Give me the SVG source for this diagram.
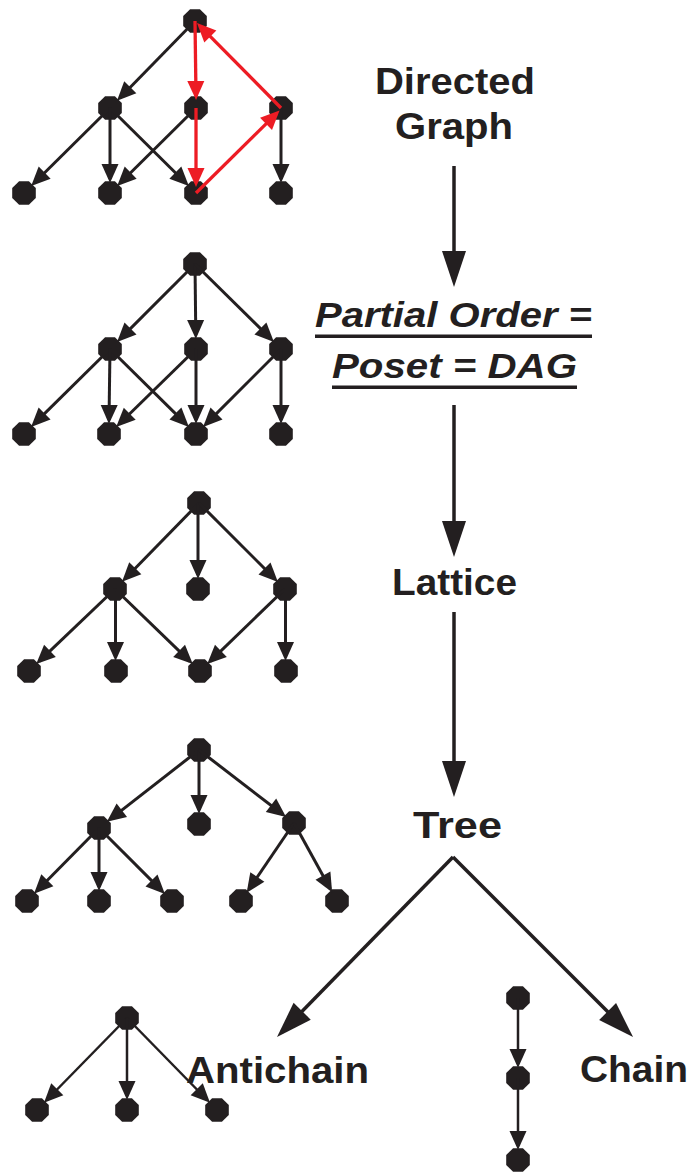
<svg xmlns="http://www.w3.org/2000/svg" xmlns:xlink="http://www.w3.org/1999/xlink" width="691" height="1173" viewBox="0 0 691 1173">
  <style>
    .n { fill: #231f20; }
    .e { stroke: #231f20; stroke-width: 3; fill: none; marker-end: url(#ah); }
    .thin { stroke-width: 2.5; }
    .r { stroke: #ed1c24; stroke-width: 3.3; marker-end: url(#ahr); }
    .big { stroke: #231f20; stroke-width: 3.5; fill: none; marker-end: url(#ahb); }
    .lbl { font-family: "Liberation Sans", Arial, Helvetica, sans-serif; font-weight: bold; font-size: 37px; fill: #231f20; }
    .it { font-style: italic; font-size: 35px; }
    .ul { fill: #231f20; }
  </style>
  <defs>
    <!-- vertex glyph: small filled octagon -->
    <path id="nd" d="M11.8,4.9 L4.9,11.8 L-4.9,11.8 L-11.8,4.9 L-11.8,-4.9 L-4.9,-11.8 L4.9,-11.8 L11.8,-4.9 Z"/>
    <marker id="ah" markerUnits="userSpaceOnUse" markerWidth="19" markerHeight="17" refX="15" refY="8.5" orient="auto" overflow="visible">
      <path d="M0,0 L19,8.5 L0,17 Z" fill="#231f20"/>
    </marker>
    <marker id="ahr" markerUnits="userSpaceOnUse" markerWidth="19" markerHeight="17" refX="15" refY="8.5" orient="auto" overflow="visible">
      <path d="M0,0 L19,8.5 L0,17 Z" fill="#ed1c24"/>
    </marker>
    <marker id="ahb" markerUnits="userSpaceOnUse" markerWidth="36" markerHeight="24" refX="30" refY="12" orient="auto" overflow="visible">
      <path d="M0,0 L36,12 L0,24 Z" fill="#231f20"/>
    </marker>
  </defs>
  <rect width="691" height="1173" fill="#ffffff"/>

  <!-- vertices -->
  <g id="nodes" class="n">
    <!-- directed graph -->
    <g id="dg-top"><use href="#nd" x="195" y="21"/></g>
    <g id="dg-ml"><use href="#nd" x="110" y="108"/></g>
    <g id="dg-mc"><use href="#nd" x="196" y="108"/></g>
    <g id="dg-mr"><use href="#nd" x="281" y="108"/></g>
    <g id="dg-b1"><use href="#nd" x="24" y="193"/></g>
    <g id="dg-b2"><use href="#nd" x="110" y="193"/></g>
    <g id="dg-b3"><use href="#nd" x="196" y="193"/></g>
    <g id="dg-b4"><use href="#nd" x="281" y="193"/></g>
    <!-- partial order -->
    <g id="po-top"><use href="#nd" x="195" y="264"/></g>
    <g id="po-ml"><use href="#nd" x="110" y="349"/></g>
    <g id="po-mc"><use href="#nd" x="196" y="349"/></g>
    <g id="po-mr"><use href="#nd" x="281" y="349"/></g>
    <g id="po-b1"><use href="#nd" x="24" y="434"/></g>
    <g id="po-b2"><use href="#nd" x="109" y="434"/></g>
    <g id="po-b3"><use href="#nd" x="196" y="434"/></g>
    <g id="po-b4"><use href="#nd" x="281" y="434"/></g>
    <!-- lattice -->
    <g id="la-top"><use href="#nd" x="199" y="503"/></g>
    <g id="la-ml"><use href="#nd" x="115" y="589"/></g>
    <g id="la-mc"><use href="#nd" x="198" y="589"/></g>
    <g id="la-mr"><use href="#nd" x="285" y="589"/></g>
    <g id="la-b1"><use href="#nd" x="29" y="671"/></g>
    <g id="la-b2"><use href="#nd" x="116" y="671"/></g>
    <g id="la-b3"><use href="#nd" x="200" y="671"/></g>
    <g id="la-b4"><use href="#nd" x="286" y="671"/></g>
    <!-- tree -->
    <g id="tr-top"><use href="#nd" x="199" y="750"/></g>
    <g id="tr-ml"><use href="#nd" x="99" y="828"/></g>
    <g id="tr-mc"><use href="#nd" x="199" y="824"/></g>
    <g id="tr-mr"><use href="#nd" x="294" y="823"/></g>
    <g id="tr-b1"><use href="#nd" x="27" y="901"/></g>
    <g id="tr-b2"><use href="#nd" x="99" y="901"/></g>
    <g id="tr-b3"><use href="#nd" x="172" y="901"/></g>
    <g id="tr-b4"><use href="#nd" x="241" y="901"/></g>
    <g id="tr-b5"><use href="#nd" x="337" y="901"/></g>
    <!-- star -->
    <g id="st-top"><use href="#nd" x="127" y="1018"/></g>
    <g id="st-b1"><use href="#nd" x="37" y="1110"/></g>
    <g id="st-b2"><use href="#nd" x="127" y="1110"/></g>
    <g id="st-b3"><use href="#nd" x="217" y="1110"/></g>
    <!-- chain -->
    <g id="ch-1"><use href="#nd" x="518" y="998"/></g>
    <g id="ch-2"><use href="#nd" x="518" y="1078"/></g>
    <g id="ch-3"><use href="#nd" x="518" y="1160"/></g>
  </g>

  <!-- labels -->
  <g id="lbl-directed" class="lbl">
    <text x="455" y="94" text-anchor="middle" textLength="160" lengthAdjust="spacingAndGlyphs">Directed</text>
    <text x="454" y="139" text-anchor="middle" textLength="118" lengthAdjust="spacingAndGlyphs">Graph</text>
  </g>
  <g id="lbl-poset" class="lbl">
    <text class="it" x="315" y="327" textLength="277" lengthAdjust="spacingAndGlyphs">Partial Order =</text>
    <rect class="ul" x="315" y="334.5" width="277" height="3.5"/>
    <text class="it" x="332" y="378" textLength="245" lengthAdjust="spacingAndGlyphs">Poset = DAG</text>
    <rect class="ul" x="332" y="385.5" width="245" height="3.5"/>
  </g>
  <g id="lbl-lattice" class="lbl">
    <text x="454.5" y="595" text-anchor="middle" textLength="125" lengthAdjust="spacingAndGlyphs">Lattice</text>
  </g>
  <g id="lbl-tree" class="lbl">
    <text x="457.5" y="838" text-anchor="middle" textLength="89" lengthAdjust="spacingAndGlyphs">Tree</text>
  </g>
  <g id="lbl-antichain" class="lbl">
    <text x="277.5" y="1083" text-anchor="middle" textLength="183" lengthAdjust="spacingAndGlyphs">Antichain</text>
  </g>
  <g id="lbl-chain" class="lbl">
    <text x="634" y="1082" text-anchor="middle" textLength="108" lengthAdjust="spacingAndGlyphs">Chain</text>
  </g>

  <!-- connectors -->
  <g id="edges">
    <!-- directed graph -->
    <line class="e" x1="195" y1="21" x2="119.8" y2="98"/>
    <line class="e" x1="110" y1="108" x2="34" y2="183.2"/>
    <line class="e" x1="110" y1="108" x2="110" y2="179"/>
    <line class="e" x1="110" y1="108" x2="186" y2="183.2"/>
    <line class="e" x1="196" y1="108" x2="120" y2="183.2"/>
    <line class="e" x1="281" y1="108" x2="281" y2="179"/>
    <!-- directed cycle -->
    <line class="e r" x1="195" y1="21" x2="196" y2="96"/>
    <line class="e r" x1="196" y1="108" x2="196" y2="183"/>
    <line class="e r" x1="196" y1="193" x2="276.7" y2="113.3"/>
    <line class="e r" x1="281" y1="108" x2="199.8" y2="25.8"/>
    <!-- partial order -->
    <line class="e" x1="195" y1="264" x2="119.9" y2="339.1"/>
    <line class="e" x1="195" y1="264" x2="195.8" y2="335"/>
    <line class="e" x1="195" y1="264" x2="271.1" y2="339.1"/>
    <line class="e" x1="110" y1="349" x2="33.9" y2="424.1"/>
    <line class="e" x1="110" y1="349" x2="109" y2="420"/>
    <line class="e" x1="110" y1="349" x2="186.1" y2="424.1"/>
    <line class="e" x1="196" y1="349" x2="119" y2="424.2"/>
    <line class="e" x1="196" y1="349" x2="196" y2="420"/>
    <line class="e" x1="281" y1="349" x2="205.9" y2="424.1"/>
    <line class="e" x1="281" y1="349" x2="281" y2="420"/>
    <!-- lattice -->
    <line class="e" x1="199" y1="503" x2="124.8" y2="579"/>
    <line class="e" x1="198" y1="503" x2="198" y2="575"/>
    <line class="e" x1="199" y1="503" x2="275.1" y2="579.1"/>
    <line class="e" x1="115" y1="589" x2="39.1" y2="661.3"/>
    <line class="e" x1="115.5" y1="589" x2="115.5" y2="657"/>
    <line class="e" x1="115" y1="589" x2="189.9" y2="661.3"/>
    <line class="e" x1="285" y1="589" x2="210.1" y2="661.3"/>
    <line class="e" x1="285.5" y1="589" x2="285.5" y2="657"/>
    <!-- tree -->
    <line class="e" x1="199" y1="750" x2="110" y2="819.4"/>
    <line class="e" x1="199" y1="750" x2="199" y2="810"/>
    <line class="e" x1="199" y1="750" x2="282.9" y2="814.5"/>
    <line class="e" x1="99" y1="828" x2="36.8" y2="891"/>
    <line class="e" x1="99" y1="828" x2="99" y2="887"/>
    <line class="e" x1="99" y1="828" x2="162.1" y2="891.1"/>
    <line class="e" x1="294" y1="823" x2="248.9" y2="889.4"/>
    <line class="e" x1="294" y1="823" x2="330.2" y2="888.7"/>
    <!-- star -->
    <line class="e thin" x1="127" y1="1018" x2="46.8" y2="1100"/>
    <line class="e thin" x1="127" y1="1018" x2="127" y2="1096"/>
    <line class="e thin" x1="127" y1="1018" x2="207.2" y2="1100"/>
    <!-- chain -->
    <line class="e thin" x1="518" y1="998" x2="518" y2="1064"/>
    <line class="e thin" x1="518" y1="1078" x2="518" y2="1146"/>
    <!-- hierarchy of structures -->
    <line class="big" x1="454" y1="166" x2="454" y2="281"/>
    <line class="big" x1="454" y1="405" x2="454" y2="551"/>
    <line class="big" x1="454" y1="612" x2="454" y2="791"/>
    <line class="big" x1="453" y1="857" x2="281.2" y2="1032.7"/>
    <line class="big" x1="453" y1="857" x2="628.8" y2="1032.8"/>
  </g>
</svg>
